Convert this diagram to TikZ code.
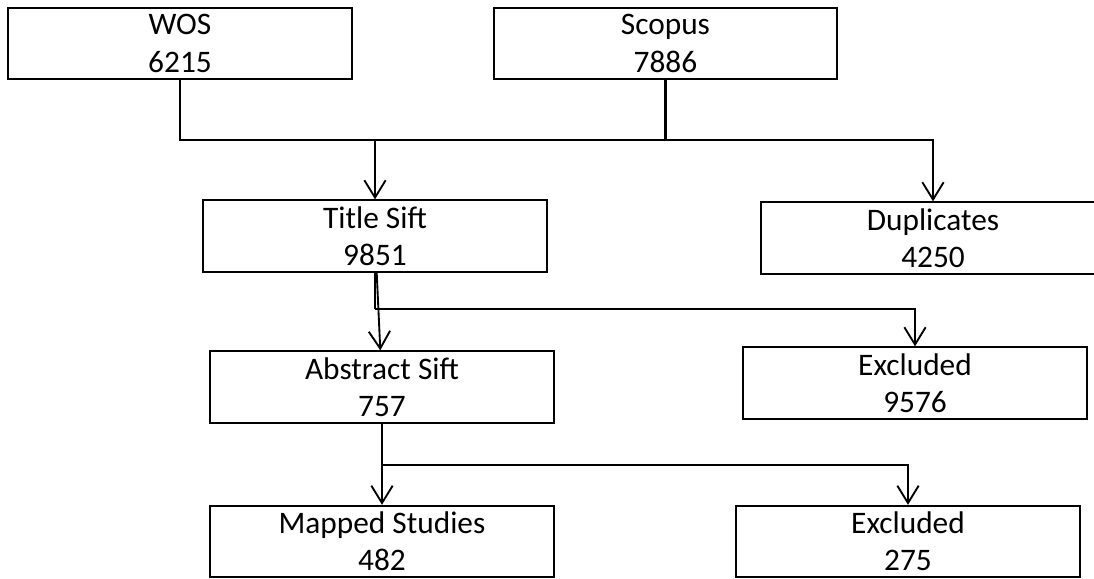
\documentclass[tikz,border=0pt]{standalone}
\usepackage{fontspec}
\setmainfont{Carlito}
\usepackage{tikz}
\usetikzlibrary{arrows.meta}
\tikzstyle{stage} = [rectangle,
minimum width=257.5pt,
minimum height=53.5pt,
inner sep=0pt,
align=center,
draw=black,
line width=1.5pt,
fill=white]
\tikzstyle{bus} = [line width=2pt]
\tikzstyle{link} = [line width=1.4pt]

\begin{document}
\begin{tikzpicture}[node distance=115pt, >={Straight Barb[length=13pt,width=16pt]}]
\tikzstyle{every node}=[font=\fontsize{23.5}{28}\selectfont]
\clip (-135pt,32.6pt) rectangle (685.5pt,-400.9pt);
\node (wos) [stage] {WOS\\6215};
\node (scopus) [stage, right of=wos, xshift=249.1pt] {Scopus\\7886};
\node (title) [stage, below of=wos, xshift=146.25pt, yshift=-29.4pt] {Title Sift\\9851};
\node (dup) [stage, right of=title, xshift=303.5pt, yshift=-1.5pt] {Duplicates\\4250};
\node (abstract) [stage, below of=title, xshift=5.25pt, yshift=1.75pt] {Abstract Sift\\757};
\node (excl1) [stage, below of=dup, xshift=-13.5pt, yshift=6.25pt] {Excluded\\9576};
\node (mapped) [stage, below of=abstract, yshift=-0.85pt] {Mapped Studies\\482};
\node (excl2) [stage, below of=excl1, xshift=-5.25pt, yshift=-3.85pt] {Excluded\\275};

% split levels
\coordinate (merge) at (0,-72.4pt);
\coordinate (cut1) at (0,-199.1pt);
\coordinate (cut2) at (0,-316.1pt);

\draw [bus] (wos.south) |- (scopus.south |- merge) -- (scopus.south);
\draw [link, ->] (title.north |- merge) -- (title);
\draw [link, ->] (scopus.south |- merge) -| (dup);
\draw [link] (title.south) -- (title.south |- cut1);
\draw [link, ->] (title.south |- cut1) -| (excl1);
\draw [link, ->] (title) -- (abstract);
\draw [link] (abstract.south) -- (abstract.south |- cut2);
\draw [link, ->] (abstract.south |- cut2) -- (mapped);
\draw [link, ->] (abstract.south |- cut2) -| (excl2);
\end{tikzpicture}
\end{document}
